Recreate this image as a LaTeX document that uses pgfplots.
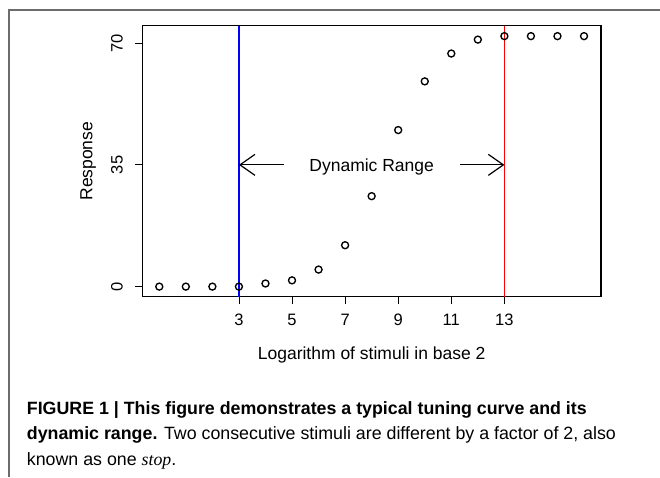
\documentclass[border=0pt]{standalone}
\usepackage{fontspec}
\setmainfont{Liberation Sans}
\newfontfamily\capserif{Liberation Serif}
\usepackage{pgfplots}
\pgfplotsset{compat=1.18}
\usetikzlibrary{arrows.meta}

\begin{document}
\begin{tikzpicture}
\path[use as bounding box] (0pt,0pt) rectangle (660pt,-477pt);
% page frame (only top and left edges visible)
\draw[gray!85!black, line width=1.6pt] (9pt,-477pt) -- (9pt,-10pt) -- (660pt,-10pt);

\begin{axis}[
 at={(142.3pt,-296.7pt)},anchor=south west,
 scale only axis,width=458.7pt,height=271pt,
 xmin=-0.64,xmax=16.64,ymin=-2.9,ymax=75,
 xtick={3,5,7,9,11,13},ytick={0,35,70},
 xtick pos=left,ytick pos=left,
 tick align=outside,major tick length=7.5pt,
 every tick/.style={black,line width=0.8pt},
 axis line style={line width=1.2pt},
 /pgf/number format/assume math mode=true,
 tick label style={font=\fontsize{16.5}{19}\selectfont},
 xticklabel style={inner sep=0pt,anchor=north},
 yticklabel style={inner sep=0pt,rotate=90,anchor=south},
 xticklabel shift=9.5pt,yticklabel shift=11.8pt,
 label style={font=\fontsize{17.5}{20}\selectfont},
 xlabel={Logarithm of stimuli in base 2},
 ylabel={Response},
 xlabel style={at={(axis description cs:0.5,-0.232)},anchor=base,inner sep=0pt},
 ylabel style={at={(axis description cs:-0.109,0.5)},anchor=base,rotate=0,inner sep=0pt},
]
\addplot[only marks,mark=o,mark size=3.5pt,mark options={line width=1.35pt,black}] coordinates {
 (0,0) (1,0) (2,0) (3,0) (4,0.9) (5,1.8) (6,4.9) (7,11.9) (8,26) (9,45)
 (10,59) (11,67) (12,71) (13,72) (14,72) (15,72) (16,72)
};
\addplot[blue,line width=1.5pt] coordinates {(3,-2.9) (3,75)};
\addplot[red,line width=1.5pt] coordinates {(13,-2.9) (13,75)};
\draw[line width=1.2pt,-{Straight Barb[length=15pt,width=21pt]}] (axis cs:4.69,35) -- (axis cs:3,35);
\draw[line width=1.2pt,-{Straight Barb[length=15pt,width=21pt]}] (axis cs:11.34,35) -- (axis cs:13,35);
\node[anchor=base,font=\fontsize{17.5}{20}\selectfont,yshift=-6.7pt] at (axis cs:8,35) {Dynamic Range};
\end{axis}

% caption
\begin{scope}[every node/.style={anchor=base west,inner sep=0pt,font=\fontsize{17.8}{21}\selectfont}]
\node at (26.7pt,-414.5pt) {\textbf{FIGURE 1 | This figure demonstrates a typical tuning curve and its}};
\node at (26.7pt,-439.5pt) {\textbf{dynamic range.} Two consecutive stimuli are different by a factor of 2, also};
\node at (26.7pt,-465pt) {known as one {\capserif\itshape stop}.};
\end{scope}
\end{tikzpicture}
\end{document}
